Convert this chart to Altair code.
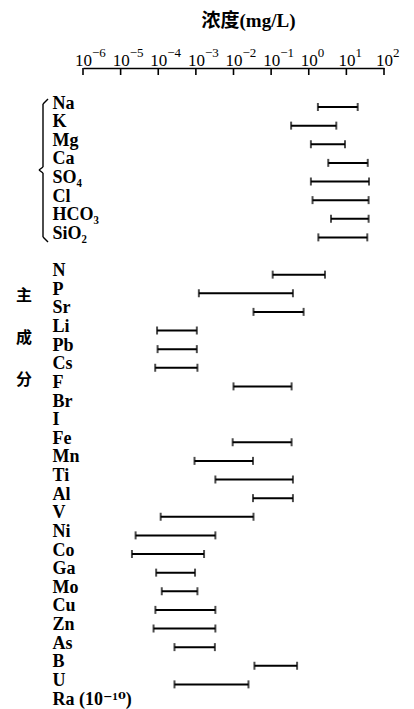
import altair as alt
import pandas as pd

# ---------------- data ----------------
elements = ["Na", "K", "Mg", "Ca", "SO₄", "Cl", "HCO₃", "SiO₂", " ",
            "N", "P", "Sr", "Li", "Pb", "Cs", "F", "Br", "I", "Fe", "Mn",
            "Ti", "Al", "V", "Ni", "Co", "Ga", "Mo", "Cu", "Zn", "As", "B",
            "U", "Ra (10⁻¹⁰)"]
low = [1.75, 0.34, 1.14, 3.3, 1.14, 1.26, 3.9, 1.8, None,
       0.11, 0.0012, 0.034, 9.3e-5, 9.6e-5, 8.3e-5, 0.010, None, None, 0.0095, 9.2e-4,
       0.0033, 0.033, 1.16e-4, 2.5e-5, 2.0e-5, 8.8e-5, 1.24e-4, 8.4e-5, 7.5e-5, 2.7e-4, 0.036,
       2.7e-4, None]
high = [20, 5.4, 9.2, 37, 40, 39, 39, 36, None,
        2.7, 0.38, 0.73, 1.06e-3, 1.06e-3, 1.1e-3, 0.35, None, None, 0.35, 0.033,
        0.38, 0.38, 0.034, 0.0033, 1.65e-3, 9.5e-4, 1.1e-3, 3.3e-3, 3.3e-3, 3.2e-3, 0.49,
        0.025, None]
tick_values = [1e-6, 1e-5, 1e-4, 1e-3, 1e-2, 1e-1, 1e0, 1e1, 1e2]
tick_base = "10"
tick_exponents = ["−6", "−5", "−4", "−3", "−2", "−1", "0", "1", "2"]
axis_title = "浓度(mg/L)"
side_label = "主\n成\n分"

rows = [{"element": e, "low": lo, "high": hi}
        for e, lo, hi in zip(elements, low, high) if lo is not None]
bars_df = pd.DataFrame(rows)
ticks_df = pd.DataFrame({"low": tick_values, "exp": tick_exponents})
one = pd.DataFrame({"_": [0]})

SERIF = "Liberation Serif, DejaVu Serif, Noto Sans CJK SC"

x_scale = alt.Scale(type="log", domain=[1e-6, 1e2])
y_scale = alt.Scale(type="point", domain=elements, range=[35, 631], padding=0)

y_axis = alt.Axis(orient="left", title=None, domain=False, ticks=False, tickSize=0,
                  labelAlign="left", labelBaseline="middle", labelPadding=31,
                  labelFont=SERIF, labelFontSize=18, labelFontWeight="bold",
                  labelColor="black",
                  labelLimit=300, labelOverlap=False, grid=False)
x_axis = alt.Axis(orient="top", values=tick_values, labelExpr="'%s'" % tick_base,
                  ticks=False, tickSize=0, grid=False,
                  domain=True, domainColor="black", domainWidth=1.6,
                  labelFont=SERIF, labelFontSize=17, labelColor="black",
                  labelAlign="center", labelBaseline="alphabetic",
                  labelPadding=3, labelOverlap=False, labelFlush=False,
                  title=axis_title, titleFont=SERIF, titleFontSize=19,
                  titleFontWeight="bold", titleColor="black",
                  titleX=165, titleY=-48, titleBaseline="middle", titleAlign="center")

bars = alt.Chart(bars_df).mark_rule(color="black", strokeWidth=2, yOffset=4).encode(
    x=alt.X("low:Q", scale=x_scale, axis=x_axis),
    x2="high:Q",
    y=alt.Y("element:N", scale=y_scale, axis=y_axis),
)

caps = alt.Chart(bars_df).transform_fold(["low", "high"], as_=["end", "low"]).mark_tick(
    color="black", thickness=2, size=8, yOffset=4
).encode(
    x=alt.X("low:Q", scale=x_scale, axis=x_axis),
    y=alt.Y("element:N", scale=y_scale, axis=y_axis),
)

axis_ticks = alt.Chart(ticks_df).mark_rule(color="black", strokeWidth=1.6).encode(
    x=alt.X("low:Q", scale=x_scale, axis=x_axis),
    y=alt.value(0),
    y2=alt.value(7),
)

exponents = alt.Chart(ticks_df).mark_text(
    font=SERIF, fontSize=13, color="black", align="left", baseline="alphabetic", dx=9
).encode(
    x=alt.X("low:Q", scale=x_scale, axis=x_axis),
    y=alt.value(-11),
    text="exp:N",
)


def seg(x1, y1, x2, y2):
    return alt.Chart(one).mark_rule(color="black", strokeWidth=1.4).encode(
        x=alt.value(x1), y=alt.value(y1), x2=alt.value(x2), y2=alt.value(y2))


brace = [
    seg(-35, 31, -40, 36),
    seg(-40, 36, -40, 99),
    seg(-40, 99, -44, 102),
    seg(-44, 102, -40, 105),
    seg(-40, 105, -40, 169),
    seg(-40, 169, -35, 174),
]

side = alt.Chart(one).mark_text(
    text=side_label, lineBreak="\n", lineHeight=42, font="Noto Sans CJK SC",
    fontSize=16, fontWeight="bold", color="black", align="center", baseline="top"
).encode(x=alt.value(-59), y=alt.value(220))

chart = alt.layer(bars, caps, axis_ticks, exponents, *brace, side).properties(
    width=301, height=641,
    autosize=alt.AutoSizeParams(type="none"),
    padding={"left": 75, "top": 60, "right": 22, "bottom": 0},
    background="white",
).configure_view(stroke=None)

chart.save("out.html", embed_options={"renderer": "svg", "actions": False})
